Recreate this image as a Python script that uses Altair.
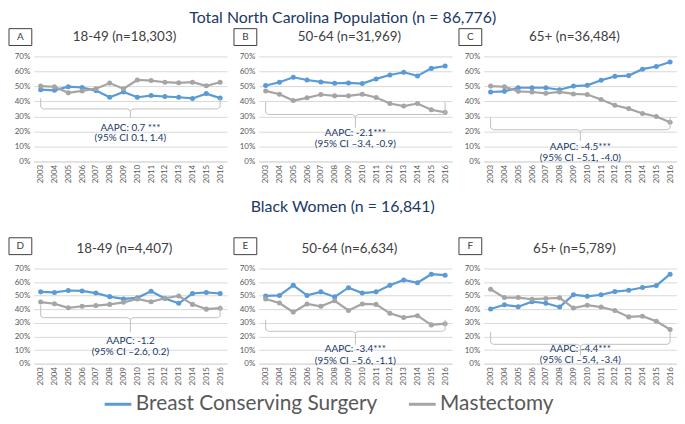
import altair as alt
import pandas as pd

years = list(range(2003, 2017))
series_names = ["Breast Conserving Surgery", "Mastectomy"]
series_colors = ["#5b9bd5", "#a5a5a5"]

# Panel A: Total NC, 18-49
bcs_A = [47.8, 47.4, 49.8, 49.3, 47.2, 42.8, 46.3, 42.8, 43.9, 43.3, 42.8, 42.0, 45.2, 42.2]
mast_A = [50.2, 49.8, 45.7, 47.0, 48.5, 52.2, 48.5, 54.3, 53.9, 52.8, 52.4, 52.8, 50.4, 52.8]
# Panel B: Total NC, 50-64
bcs_B = [50.6, 52.8, 56.1, 54.3, 53.0, 52.1, 52.3, 51.9, 55.0, 57.6, 59.4, 57.0, 62.0, 63.6]
mast_B = [47.0, 44.8, 40.6, 42.4, 44.6, 43.7, 43.7, 44.8, 42.6, 38.6, 36.9, 38.6, 34.4, 32.7]
# Panel C: Total NC, 65+
bcs_C = [46.3, 46.7, 49.1, 49.1, 49.1, 47.8, 50.2, 50.7, 54.1, 56.7, 57.2, 61.5, 63.3, 66.3]
mast_C = [50.2, 49.8, 46.7, 46.3, 45.4, 46.3, 45.0, 44.6, 41.3, 37.4, 35.2, 32.0, 30.0, 26.1]
# Panel D: Black women, 18-49
bcs_D = [52.8, 52.4, 53.8, 53.5, 51.9, 49.3, 47.6, 48.4, 53.3, 47.9, 44.4, 51.6, 52.4, 51.6]
mast_D = [45.3, 44.1, 41.1, 42.2, 42.7, 43.6, 45.1, 47.6, 45.5, 48.1, 49.8, 43.6, 40.1, 40.8]
# Panel E: Black women, 50-64
bcs_E = [49.8, 50.2, 57.6, 50.2, 52.8, 49.1, 55.9, 51.9, 52.8, 57.6, 61.6, 59.5, 65.8, 65.1]
mast_E = [47.6, 44.6, 37.9, 43.9, 42.2, 46.2, 39.1, 43.9, 43.6, 37.0, 33.9, 35.3, 28.5, 29.4]
# Panel F: Black women, 65+
bcs_F = [40.2, 43.3, 41.9, 45.6, 44.4, 41.6, 50.7, 49.5, 50.7, 53.0, 54.0, 56.0, 57.4, 65.8]
mast_F = [54.7, 48.6, 48.6, 47.4, 47.9, 48.4, 40.9, 43.0, 41.6, 39.1, 34.4, 34.9, 31.2, 25.1]

letters = ["A", "B", "C", "D", "E", "F"]
subtitles = ["18-49 (n=18,303)", "50-64 (n=31,969)", "65+ (n=36,484)",
             "18-49 (n=4,407)", "50-64 (n=6,634)", "65+ (n=5,789)"]
aapc_text = ["AAPC: 0.7 ***", "AAPC: -2.1***", "AAPC: -4.5***",
             "AAPC: -1.2", "AAPC: -3.4***", "AAPC: -4.4***"]
ci_text = ["(95% CI 0.1, 1.4)", "(95% CI \u20133.4, -0.9)", "(95% CI \u20135.1, -4.0)",
           "(95% CI \u20132.6, 0.2)", "(95% CI \u20135.6, -1.1)", "(95% CI \u20135.4, -3.4)"]
# brace: top of arms, horizontal level, stem bottom (percent)
brace_top = [42.0, 39.7, 29.3, 42.9, 32.3, 23.5]
brace_level = [35.0, 31.3, 21.1, 33.8, 23.8, 14.2]
brace_dip = [29.0, 22.5, 13.7, 23.0, 13.8, 6.0]
text1_y = [22.6, 19.2, 9.8, 16.6, 10.6, 10.7]
text2_y = [15.6, 11.9, 2.4, 8.4, 2.0, 2.8]
brace_center = 2009.5

bcs_all = [bcs_A, bcs_B, bcs_C, bcs_D, bcs_E, bcs_F]
mast_all = [mast_A, mast_B, mast_C, mast_D, mast_E, mast_F]

W = 195
FONT = "Lato"
NAVY = "#203864"

XS = alt.X("year:Q", scale=alt.Scale(domain=[2002.5, 2016.5], nice=False, zero=False),
           axis=alt.Axis(values=years, format="d", labelAngle=270, title=None, grid=False,
                         ticks=False, domain=True, domainColor="#d9d9d9",
                         labelFontSize=8, labelColor="#595959", labelPadding=3,
                         labelOverlap=False, labelFont=FONT))
YS = alt.Y("value:Q", scale=alt.Scale(domain=[0, 0.7], nice=False),
           axis=alt.Axis(values=[0, 0.1, 0.2, 0.3, 0.4, 0.5, 0.6, 0.7], format=".0%",
                         title=None, grid=True, gridColor="#d9d9d9", domain=False,
                         ticks=False, labelFontSize=8, labelColor="#595959",
                         labelPadding=4, labelFont=FONT, labelOverlap=False))
COLOR = alt.Color("series:N", scale=alt.Scale(domain=series_names, range=series_colors),
                  title=None)


def panel(i, height, box_top):
    rows = []
    for y, b, m in zip(years, bcs_all[i], mast_all[i]):
        rows.append({"year": y, "value": b / 100, "series": series_names[0]})
        rows.append({"year": y, "value": m / 100, "series": series_names[1]})
    df = pd.DataFrame(rows)

    base = alt.Chart(df).encode(x=XS, y=YS, color=COLOR)
    lines = base.mark_line(strokeWidth=2.2)
    points = base.mark_point(filled=True, size=26, opacity=1, shape="circle")

    xc = brace_center
    t, lv, dp = brace_top[i] / 100, brace_level[i] / 100, brace_dip[i] / 100
    d = 0.012
    left = [(2003, t), (2003, lv + d), (2003.2, lv), (xc - 0.2, lv), (xc, lv - d), (xc, dp)]
    right = [(2016, t), (2016, lv + d), (2015.8, lv), (xc + 0.2, lv), (xc, lv - d)]
    brows = []
    for seg, pts in (("l", left), ("r", right)):
        for k, (bx, by) in enumerate(pts):
            brows.append({"seg": seg, "o": k, "year": bx, "value": by})
    brace = alt.Chart(pd.DataFrame(brows)).mark_line(color="#bfbfbf", strokeWidth=1).encode(
        x=XS, y=YS, detail="seg:N", order="o:Q")

    tdf = pd.DataFrame({"year": [xc, xc], "value": [text1_y[i] / 100, text2_y[i] / 100],
                        "t": [aapc_text[i], ci_text[i]]})
    ann = alt.Chart(tdf).mark_text(fontSize=10, color=NAVY, font=FONT).encode(
        x=XS, y=YS, text="t:N")

    ldf = pd.DataFrame({"letter": [letters[i]], "sub": [subtitles[i]]})
    box = alt.Chart(ldf).mark_rect(fill="white", stroke="#404040", strokeWidth=1).encode(
        x=alt.value(-25), x2=alt.value(-2), y=alt.value(-box_top), y2=alt.value(-box_top + 17))
    letter = alt.Chart(ldf).mark_text(fontSize=10, color="#404040", font=FONT).encode(
        x=alt.value(-13.5), y=alt.value(-box_top + 8.5), text="letter:N")
    sub = alt.Chart(ldf).mark_text(fontSize=13.5, color="#404040", font=FONT).encode(
        x=alt.value(W / 2 - 6), y=alt.value(-20), text="sub:N")

    return alt.layer(lines, points, brace, ann, box, letter, sub).properties(
        width=W, height=height)


row1 = alt.hconcat(panel(0, 106, 28), panel(1, 106, 28), panel(2, 106, 28), spacing=6,
                   title=alt.Title("Total North Carolina Population (n = 86,776)", fontSize=16,
                                   color=NAVY, fontWeight="normal", font=FONT,
                                   anchor="middle", offset=2))
row2 = alt.hconcat(panel(3, 96, 31), panel(4, 96, 31), panel(5, 96, 31), spacing=6,
                   title=alt.Title("Black Women (n = 16,841)", fontSize=16, color=NAVY,
                                   fontWeight="normal", font=FONT, anchor="middle", offset=22))

chart = alt.vconcat(row1, row2, spacing=16).properties(padding=0).configure_view(
    stroke=None
).configure_legend(
    orient="none", legendX=70, legendY=336, direction="horizontal", padding=0,
    symbolType="stroke", symbolSize=729, symbolStrokeWidth=3,
    labelFontSize=21, labelFont=FONT, labelColor="#595959", columnPadding=25,
    labelLimit=400, labelOffset=3
)

chart.save("out.html", embed_options={"renderer": "svg", "actions": False})
